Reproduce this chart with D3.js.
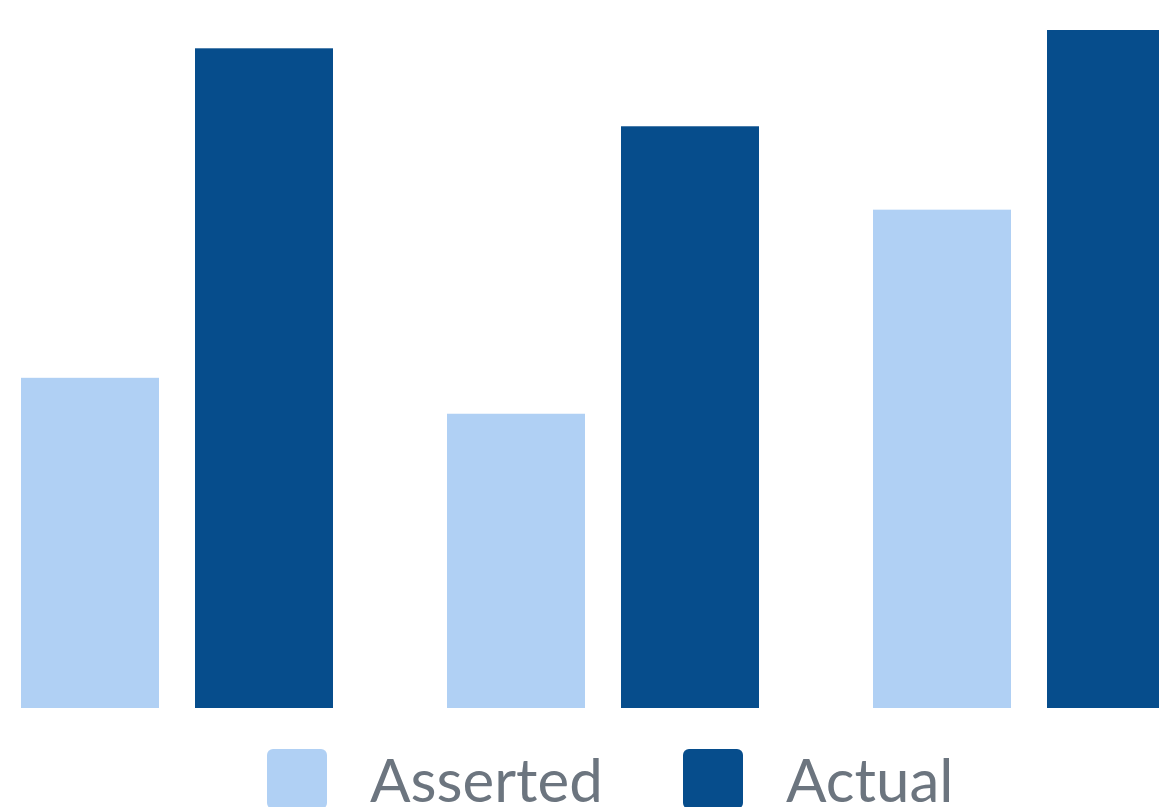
<!DOCTYPE html>
<html lang="en">
<head>
    <meta charset="UTF-8">
    <title>Asserted vs Actual</title>
    <script src="https://d3js.org/d3.v7.min.js"></script>
    <style>
        * {
            margin: 0;
            padding: 0;
            box-sizing: border-box;
        }
        body {
            font-family: Lato, "Open Sans", sans-serif;
            background: #fff;
            overflow: hidden;
        }
        svg {
            display: block;
        }
    </style>
</head>
<body>
    <div id="chart"></div>
    <script>
        // data (no axis shown, so values are relative 0-100)
        const groups = ["Group 1", "Group 2", "Group 3"];
        const seriesNames = ["Asserted", "Actual"];
        const asserted = [48.7, 43.4, 73.5];
        const actual = [97.3, 85.8, 100];
        const colors = ["#b0d0f4", "#064d8c"];

        const width = 1159, height = 807;
        const margin = { top: 30, left: 21, baseline: 708 };

        const svg = d3.select("#chart")
            .append("svg")
            .attr("width", width)
            .attr("height", height);

        const data = groups.map((g, i) => ({
            group: g,
            values: [
                { key: seriesNames[0], value: asserted[i] },
                { key: seriesNames[1], value: actual[i] }
            ]
        }));

        const x0 = d3.scaleBand()
            .domain(groups)
            .range([margin.left, margin.left + 1164])
            .paddingInner(0.2676)
            .paddingOuter(0);

        const x1 = d3.scaleBand()
            .domain(seriesNames)
            .range([0, x0.bandwidth()])
            .paddingInner(0.2069);

        const y = d3.scaleLinear()
            .domain([0, 100])
            .range([margin.baseline, margin.top]);

        const color = d3.scaleOrdinal()
            .domain(seriesNames)
            .range(colors);

        svg.append("g")
            .selectAll("g")
            .data(data)
            .join("g")
            .attr("transform", d => `translate(${x0(d.group)},0)`)
            .selectAll("rect")
            .data(d => d.values)
            .join("rect")
            .attr("x", d => x1(d.key))
            .attr("y", d => y(d.value))
            .attr("width", x1.bandwidth())
            .attr("height", d => y(0) - y(d.value))
            .attr("fill", d => color(d.key));

        // legend
        const legendX = [267, 683];
        const legend = svg.append("g")
            .selectAll("g")
            .data(seriesNames)
            .join("g")
            .attr("transform", (d, i) => `translate(${legendX[i]},749)`);

        legend.append("rect")
            .attr("width", 60)
            .attr("height", 60)
            .attr("rx", 6)
            .attr("fill", d => color(d));

        legend.append("text")
            .attr("x", 103)
            .attr("y", 53)
            .style("font-size", "60px")
            .style("fill", "#6c757f")
            .text(d => d);
    </script>
</body>
</html>
